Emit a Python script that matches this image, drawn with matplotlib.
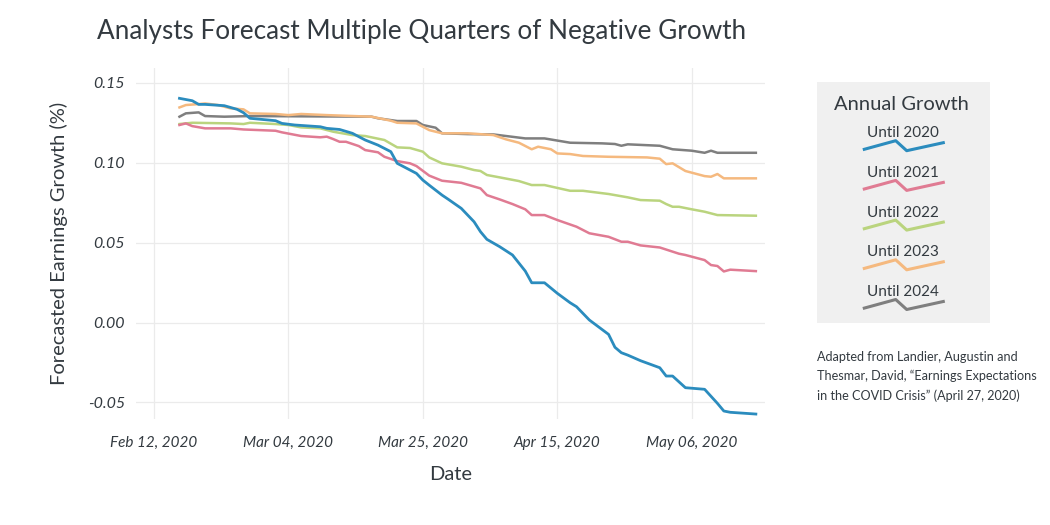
import pandas as pd
import matplotlib
matplotlib.use("Agg")
import matplotlib.pyplot as plt
import matplotlib.dates as mdates

plt.rcParams['font.family'] = ['Lato', 'DejaVu Sans']

# forecast of annual earnings growth (dates in 2020)
dates_2020 = ['02-16', '02-18', '02-19', '02-20', '02-23', '02-25', '02-26', '02-27',
              '03-02', '03-03', '03-05', '03-09', '03-10', '03-12', '03-14', '03-16',
              '03-18', '03-20', '03-21', '03-23', '03-24', '03-25', '03-26', '03-28',
              '03-29', '03-31', '04-02', '04-03', '04-04', '04-06', '04-08', '04-10',
              '04-11', '04-13', '04-15', '04-17', '04-18', '04-20', '04-23', '04-24',
              '04-25', '04-26', '04-28', '05-01', '05-02', '05-03', '05-05', '05-08',
              '05-10', '05-11', '05-12', '05-16']
growth_2020 = [0.1404, 0.1389, 0.1366, 0.1366, 0.1358, 0.1335, 0.1314, 0.1279,
               0.1264, 0.1247, 0.1237, 0.1226, 0.1216, 0.1209, 0.1185, 0.1143,
               0.1111, 0.1070, 0.0997, 0.0955, 0.0934, 0.0892, 0.0860, 0.0798,
               0.0771, 0.0715, 0.0631, 0.0569, 0.0521, 0.0475, 0.0423, 0.0322,
               0.0249, 0.0249, 0.0183, 0.0124, 0.0099, 0.0016, -0.0074, -0.0155,
               -0.0189, -0.0204, -0.0239, -0.0283, -0.0335, -0.0335, -0.0408, -0.0418,
               -0.0506, -0.0554, -0.0562, -0.0573]

dates_2021 = ['02-16', '02-17', '02-18', '02-20', '02-24', '02-26', '03-02', '03-03',
              '03-06', '03-09', '03-10', '03-11', '03-12', '03-13', '03-15', '03-16',
              '03-18', '03-19', '03-21', '03-23', '03-24', '03-26', '03-28', '03-31',
              '04-03', '04-04', '04-06', '04-08', '04-10', '04-11', '04-13', '04-15',
              '04-18', '04-20', '04-23', '04-25', '04-26', '04-28', '05-01', '05-04',
              '05-05', '05-08', '05-09', '05-10', '05-11', '05-12', '05-16']
growth_2021 = [0.1237, 0.1247, 0.1230, 0.1216, 0.1216, 0.1209, 0.1201, 0.1191,
               0.1168, 0.1160, 0.1164, 0.1149, 0.1132, 0.1132, 0.1105, 0.1080,
               0.1066, 0.1038, 0.1011, 0.0997, 0.0980, 0.0920, 0.0888, 0.0875,
               0.0840, 0.0798, 0.0771, 0.0742, 0.0709, 0.0673, 0.0673, 0.0642,
               0.0600, 0.0559, 0.0537, 0.0506, 0.0506, 0.0483, 0.0470, 0.0431,
               0.0423, 0.0391, 0.0360, 0.0354, 0.0320, 0.0331, 0.0322]

dates_2022 = ['02-16', '02-18', '02-24', '02-26', '02-27', '03-02', '03-04', '03-06',
              '03-09', '03-11', '03-14', '03-16', '03-19', '03-21', '03-23', '03-25',
              '03-26', '03-28', '03-31', '04-02', '04-03', '04-04', '04-06', '04-09',
              '04-11', '04-13', '04-17', '04-19', '04-23', '04-26', '04-28', '05-01',
              '05-02', '05-03', '05-04', '05-06', '05-08', '05-10', '05-16']
growth_2022 = [0.1243, 0.1251, 0.1247, 0.1243, 0.1251, 0.1243, 0.1237, 0.1222,
               0.1216, 0.1195, 0.1174, 0.1168, 0.1143, 0.1097, 0.1093, 0.1070,
               0.1034, 0.0997, 0.0976, 0.0955, 0.0949, 0.0924, 0.0909, 0.0886,
               0.0861, 0.0861, 0.0825, 0.0825, 0.0805, 0.0784, 0.0767, 0.0763,
               0.0742, 0.0725, 0.0725, 0.0709, 0.0694, 0.0673, 0.0669]

dates_2023 = ['02-16', '02-17', '02-19', '02-20', '02-22', '02-24', '02-26', '02-27',
              '03-02', '03-04', '03-06', '03-10', '03-17', '03-20', '03-21', '03-24',
              '03-25', '03-26', '03-28', '04-01', '04-05', '04-07', '04-09', '04-11',
              '04-12', '04-14', '04-15', '04-17', '04-19', '04-23', '04-29', '05-01',
              '05-02', '05-03', '05-05', '05-08', '05-09', '05-10', '05-11', '05-16']
growth_2023 = [0.1347, 0.1362, 0.1368, 0.1372, 0.1362, 0.1341, 0.1335, 0.1310,
               0.1306, 0.1299, 0.1306, 0.1299, 0.1289, 0.1264, 0.1251, 0.1247,
               0.1226, 0.1205, 0.1185, 0.1185, 0.1174, 0.1147, 0.1126, 0.1085,
               0.1101, 0.1085, 0.1059, 0.1055, 0.1043, 0.1038, 0.1034, 0.1026,
               0.0992, 0.0997, 0.0949, 0.0917, 0.0913, 0.0930, 0.0903, 0.0903]

dates_2024 = ['02-16', '02-17', '02-19', '02-20', '02-23', '02-27', '03-17', '03-18',
              '03-21', '03-24', '03-25', '03-27', '03-28', '04-01', '04-05', '04-07',
              '04-10', '04-13', '04-17', '04-22', '04-24', '04-25', '04-26', '05-01',
              '05-03', '05-06', '05-08', '05-09', '05-10', '05-16']
growth_2024 = [0.1289, 0.1310, 0.1316, 0.1293, 0.1289, 0.1293, 0.1289, 0.1279,
               0.1262, 0.1262, 0.1237, 0.1220, 0.1185, 0.1180, 0.1178, 0.1168,
               0.1153, 0.1153, 0.1126, 0.1122, 0.1118, 0.1107, 0.1116, 0.1107,
               0.1085, 0.1076, 0.1063, 0.1076, 0.1063, 0.1063]

series_labels = ['Until 2020', 'Until 2021', 'Until 2022', 'Until 2023', 'Until 2024']
series_colors = ['#2b8cbe', '#e07b93', '#bad47e', '#f5b97f', '#7f7f7f']
series_dates = [dates_2020, dates_2021, dates_2022, dates_2023, dates_2024]
series_values = [growth_2020, growth_2021, growth_2022, growth_2023, growth_2024]

tick_dates = ['2020-02-12', '2020-03-04', '2020-03-25', '2020-04-15', '2020-05-06']

text_col = '#333a40'

fig = plt.figure(figsize=(10.5, 5.25), dpi=100)
ax = fig.add_axes([0.1295, 0.2019, 0.599, 0.6686])

# later years first so the 2020 line sits on top
for lab, col, d, v in reversed(list(zip(series_labels, series_colors, series_dates, series_values))):
    x = pd.to_datetime(['2020-' + s for s in d])
    w = 2.0 if lab == 'Until 2020' else 1.8
    ax.plot(x, v, color=col, lw=w, label=lab, solid_joinstyle='round')

ax.set_xlim(pd.Timestamp('2020-02-09 05:00'), pd.Timestamp('2020-05-17 10:00'))
ax.set_ylim(-0.0604, 0.1594)
ax.set_xticks(pd.to_datetime(tick_dates))
ax.xaxis.set_major_formatter(mdates.DateFormatter('%b %d, %Y'))
ax.set_yticks([-0.05, 0.0, 0.05, 0.10, 0.15])
ax.set_yticklabels(['-0.05', '0.00', '0.05', '0.10', '0.15'])

ax.grid(True, color='#ebebeb', lw=0.9)
ax.set_axisbelow(True)
for sp in ax.spines.values():
    sp.set_visible(False)
ax.tick_params(length=0, labelcolor=text_col)
ax.tick_params(axis='x', pad=12, labelsize=11)
ax.tick_params(axis='y', pad=8, labelsize=11.5)
for t in ax.get_xticklabels() + ax.get_yticklabels():
    t.set_fontstyle('italic')

ax.set_xlabel('Date', fontsize=14.5, color=text_col, labelpad=12)
ax.set_ylabel('Forecasted Earnings Growth (%)', fontsize=14.5, color=text_col, labelpad=14)

fig.text(97 / 1050, 1 - 32 / 525, 'Analysts Forecast Multiple Quarters of Negative Growth',
         fontsize=18.8, color=text_col, va='center', ha='left')

# legend panel, drawn by hand in pixel-like coordinates
lg = fig.add_axes([817 / 1050, 1 - 323 / 525, 173 / 1050, 241 / 525])
lg.set_xlim(817, 990)
lg.set_ylim(323, 82)
lg.set_facecolor('#f0f0f0')
lg.set_xticks([])
lg.set_yticks([])
for sp in lg.spines.values():
    sp.set_visible(False)
lg.text(901, 104, 'Annual Growth', fontsize=14.5, color=text_col, ha='center', va='center')
for i, (lab, col) in enumerate(zip(series_labels, series_colors)):
    ty = 133.3 + 39.7 * i
    lg.text(903, ty, lab, fontsize=11, color=text_col, ha='center', va='center')
    lg.plot([864.3, 895.7, 906.7, 943.3], [ty + 16, ty + 7.4, ty + 17.4, ty + 9.4],
            color=col, lw=2.2)

fig.text(817 / 1050, 1 - 351 / 525,
         'Adapted from Landier, Augustin and\nThesmar, David, \u201cEarnings Expectations\nin the COVID Crisis\u201d (April 27, 2020)',
         fontsize=9.1, color=text_col, ha='left', va='top', linespacing=1.65)

fig.savefig('out.png', dpi=100)
